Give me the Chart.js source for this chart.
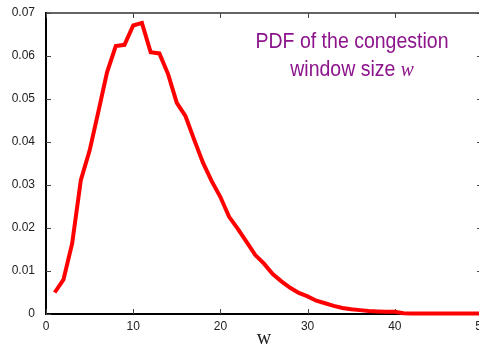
<!DOCTYPE html>
<html>
<head>
<meta charset="utf-8">
<script src="https://cdn.jsdelivr.net/npm/chart.js@4.4.1/dist/chart.umd.min.js"></script>
<style>
  html, body { margin: 0; padding: 0; background: #fff; overflow: hidden; }
</style>
</head>
<body>
<canvas id="pdfChart" width="484" height="349"></canvas>
<script>
// congestion window size w and its PDF
const windowSizes = [1, 2, 3, 4, 5, 6, 7, 8, 9, 10,
  11, 12, 13, 14, 15, 16, 17, 18, 19, 20,
  21, 22, 23, 24, 25, 26, 27, 28, 29, 30,
  31, 32, 33, 34, 35, 36, 37, 38, 39, 40,
  41, 42, 43, 44, 45, 46, 47, 48, 49, 50];
const pdfValues = [0.0050, 0.0080, 0.0164, 0.0312, 0.0380, 0.0470, 0.0562, 0.0623, 0.0626, 0.0671,
  0.0677, 0.0609, 0.0606, 0.0558, 0.0491, 0.0460, 0.0405, 0.0352, 0.0309, 0.0272,
  0.0226, 0.0198, 0.0168, 0.0137, 0.0117, 0.0093, 0.0076, 0.0061, 0.0049, 0.0041,
  0.0031, 0.0025, 0.0019, 0.0014, 0.0011, 0.0009, 0.0007, 0.0006, 0.0005, 0.0005,
  0.0002, 0.0001, 0.0001, 0.0001, 0.0001, 0.0001, 0.0001, 0.0001, 0.0001, 0.0001];
const xTicks = [0, 10, 20, 30, 40, 50];
const yTicks = [0, 0.01, 0.02, 0.03, 0.04, 0.05, 0.06, 0.07];
const titleLine1 = 'PDF of the congestion';
const titleLine2 = 'window size ';
const titleVar = 'w';

const purple = '#8c148c';

// gnuplot style frame: inward ticks, mirrored on top and right
const frameTicks = {
  id: 'frameTicks',
  beforeDatasetsDraw(chart) {
    const { ctx, chartArea: a, scales: { x, y } } = chart;
    ctx.save();
    ctx.strokeStyle = '#333';
    ctx.lineWidth = 1.5;
    ctx.beginPath();
    ctx.moveTo(a.left, a.top);
    ctx.lineTo(a.right, a.top);
    ctx.lineTo(a.right, a.bottom);
    ctx.stroke();

    ctx.lineWidth = 1;
    ctx.strokeStyle = '#444';
    ctx.beginPath();
    xTicks.forEach(v => {
      const px = Math.round(x.getPixelForValue(v)) + 0.5;
      ctx.moveTo(px, a.bottom); ctx.lineTo(px, a.bottom - 5);
      ctx.moveTo(px, a.top); ctx.lineTo(px, a.top + 5);
    });
    yTicks.forEach(v => {
      const py = Math.round(y.getPixelForValue(v)) + 0.5;
      ctx.moveTo(a.left, py); ctx.lineTo(a.left + 5, py);
      ctx.moveTo(a.right, py); ctx.lineTo(a.right - 5, py);
    });
    ctx.stroke();
    ctx.restore();
  }
};

const titleText = {
  id: 'titleText',
  afterDraw(chart) {
    const ctx = chart.ctx;
    const cx = 352;
    ctx.save();
    ctx.fillStyle = purple;
    ctx.textBaseline = 'alphabetic';
    const sans = '22px "Liberation Sans", Arial, sans-serif';
    const serif = 'italic 22px "Liberation Serif", "Times New Roman", serif';
    ctx.font = sans;
    const w1 = ctx.measureText(titleLine1).width;
    const sx = 193 / w1; // narrow face
    ctx.translate(cx, 0);
    ctx.scale(sx, 1);
    ctx.textAlign = 'center';
    ctx.fillText(titleLine1, 0, 48);
    ctx.textAlign = 'left';
    const w2 = ctx.measureText(titleLine2).width;
    ctx.font = serif;
    const w3 = ctx.measureText(titleVar).width;
    const start = -(w2 + w3) / 2;
    ctx.font = sans;
    ctx.fillText(titleLine2, start, 76);
    ctx.font = serif;
    ctx.fillText(titleVar, start + w2, 76);
    ctx.restore();
  }
};

new Chart(document.getElementById('pdfChart'), {
  type: 'line',
  data: {
    datasets: [{
      data: windowSizes.map((w, i) => ({ x: w, y: pdfValues[i] })),
      borderColor: '#ff0000',
      borderWidth: 4,
      pointRadius: 0,
      tension: 0,
      clip: false
    }]
  },
  options: {
    responsive: false,
    animation: false,
    layout: { padding: { top: 13, right: 2, left: 0, bottom: 0 } },
    plugins: {
      legend: { display: false },
      tooltip: { enabled: false }
    },
    scales: {
      x: {
        type: 'linear',
        min: 0,
        max: 50,
        afterBuildTicks: s => { s.ticks = xTicks.map(v => ({ value: v })); },
        afterFit: s => { s.height = 35; s.paddingLeft = 0; s.paddingRight = 0; },
        grid: { display: false, drawTicks: false },
        border: { color: '#000', width: 2 },
        ticks: {
          padding: 5,
          maxRotation: 0,
          color: '#222',
          font: { family: '"Liberation Sans", Arial, sans-serif', size: 12 }
        },
        title: {
          display: true,
          text: 'w',
          color: '#222',
          padding: { top: 0, bottom: 0 },
          font: { family: '"Liberation Serif", "Times New Roman", serif', size: 20, lineHeight: 1 }
        }
      },
      y: {
        min: 0,
        max: 0.07,
        afterBuildTicks: s => { s.ticks = yTicks.map(v => ({ value: v })); },
        afterFit: s => { s.width = 46; s.paddingTop = 0; s.paddingBottom = 0; },
        grid: { display: false, drawTicks: false },
        border: { color: '#000', width: 2 },
        ticks: {
          padding: 11,
          color: '#222',
          font: { family: '"Liberation Sans", Arial, sans-serif', size: 12 }
        }
      }
    }
  },
  plugins: [frameTicks, titleText]
});
</script>
</body>
</html>
